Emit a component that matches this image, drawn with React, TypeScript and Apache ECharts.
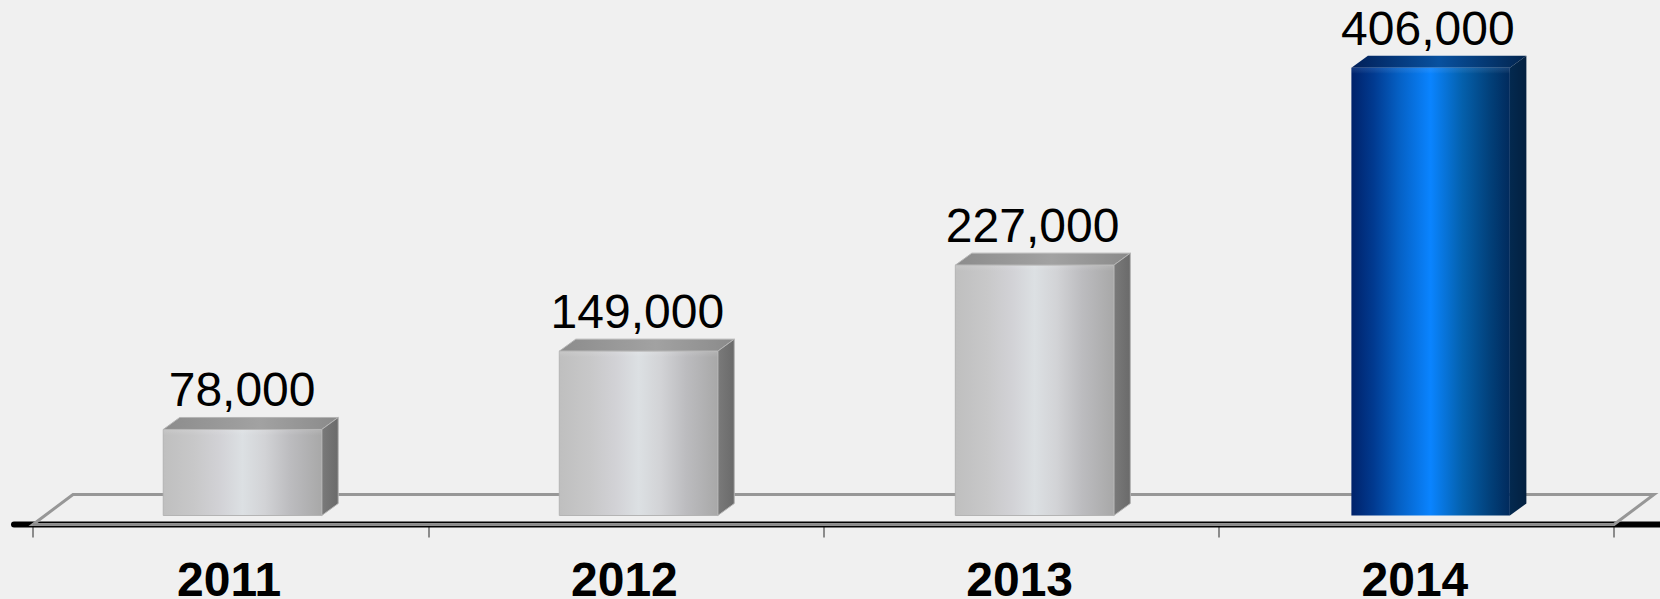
import React, { useEffect, useRef } from "react";
import * as echarts from "echarts";

const categories = ["2011", "2012", "2013", "2014"];
const values = [78000, 149000, 227000, 406000];
const highlightedYear = "2014";
const valueMax = 450000;

const FONT = '"Liberation Sans", Arial, sans-serif';
const DEPTH_X = 16.5;
const DEPTH_Y = 12;

const stops = (colors: [number, string][]) => colors.map(([offset, color]) => ({ offset, color }));
const horizontal = (colors: [number, string][]) =>
  new echarts.graphic.LinearGradient(0, 0, 1, 0, stops(colors));

const greyFace = {
  front: horizontal([
    [0, "#bfbfbf"],
    [0.2, "#c8c8c9"],
    [0.36, "#d2d2d6"],
    [0.5, "#dce0e3"],
    [0.64, "#d2d3d6"],
    [0.8, "#bcbcbf"],
    [1, "#a8a8a8"],
  ]),
  top: horizontal([
    [0, "#8c8c8c"],
    [0.55, "#a2a2a2"],
    [1, "#8a8a8a"],
  ]),
  side: horizontal([
    [0, "#7a7a7a"],
    [1, "#6a6a6a"],
  ]),
  edge: "#b4b4b4",
  bevel: "rgba(255,255,255,0.12)",
};

const blueFace = {
  front: horizontal([
    [0, "#00226a"],
    [0.14, "#013a90"],
    [0.3, "#0560c4"],
    [0.5, "#0a84ff"],
    [0.7, "#0460ac"],
    [0.88, "#023f78"],
    [1, "#012a5c"],
  ]),
  top: horizontal([
    [0, "#011f58"],
    [0.5, "#08519f"],
    [1, "#02244e"],
  ]),
  side: horizontal([
    [0, "#03294f"],
    [1, "#032040"],
  ]),
  edge: "none",
  bevel: "rgba(120,180,255,0.16)",
};

// A box with a gradient front, a slanted top and a shaded right side.
const renderBar = (_params: any, api: any) => {
  const index = api.value(0);
  const value = api.value(1);
  const [cx, top] = api.coord([index, value]);
  const [, base] = api.coord([index, 0]);
  const band = api.size([1, 0])[0];
  const width = band * 0.401;
  const left = cx + band * 0.03 + index * 0.8 - width / 2;
  const right = left + width;
  const face = categories[index] === highlightedYear ? blueFace : greyFace;
  const edge = { stroke: face.edge, lineWidth: 1 };
  return {
    type: "group",
    children: [
      {
        type: "polygon",
        shape: {
          points: [
            [left, top],
            [left + DEPTH_X, top - DEPTH_Y],
            [right + DEPTH_X, top - DEPTH_Y],
            [right, top],
          ],
        },
        style: { fill: face.top, ...edge },
      },
      {
        type: "polygon",
        shape: {
          points: [
            [right, top],
            [right + DEPTH_X, top - DEPTH_Y],
            [right + DEPTH_X, base - DEPTH_Y],
            [right, base],
          ],
        },
        style: { fill: face.side, ...edge },
      },
      {
        type: "rect",
        shape: { x: left, y: top, width, height: base - top },
        style: { fill: face.front, ...edge },
      },
      {
        type: "rect",
        shape: { x: left, y: top, width, height: 6 },
        style: {
          fill: new echarts.graphic.LinearGradient(0, 0, 0, 1, [
            { offset: 0, color: face.bevel },
            { offset: 1, color: "rgba(255,255,255,0)" },
          ]),
        },
      },
      {
        type: "text",
        x: cx + band * 0.029,
        y: top - 39.5,
        style: {
          text: value.toLocaleString("en-US"),
          fontFamily: FONT,
          fontSize: 48,
          fill: "#000000",
          align: "center",
          verticalAlign: "middle",
        },
      },
    ],
  };
};

// The floor frame with the heavy baseline running past both ends of the plot.
const renderFloor = (params: any) => {
  const { x, y, width, height } = params.coordSys;
  const bottom = y + height;
  const frontY = bottom + 9;
  const backY = bottom - 21;
  const slant = 40;
  return {
    type: "group",
    children: [
      {
        type: "line",
        shape: { x1: x - 19, y1: frontY, x2: x + width + 48, y2: frontY },
        style: { stroke: "#000000", lineWidth: 6, lineCap: "round" },
      },
      {
        type: "polygon",
        shape: {
          points: [
            [x, frontY],
            [x + slant, backY],
            [x + width + slant, backY],
            [x + width, frontY],
          ],
        },
        style: { fill: "none", stroke: "#979797", lineWidth: 3 },
      },
      {
        type: "line",
        shape: { x1: x, y1: frontY, x2: x + width, y2: frontY },
        style: { stroke: "#8a8a8a", lineWidth: 2 },
      },
    ],
  };
};

export default function App() {
  const ref = useRef<HTMLDivElement>(null);

  useEffect(() => {
    const chart = echarts.init(ref.current!, null, { renderer: "svg" });
    chart.setOption({
      animation: false,
      backgroundColor: "#f0f0f0",
      grid: { left: 33, right: 46, top: 19.2, bottom: 83.5, outerBoundsMode: "none" },
      xAxis: {
        type: "category",
        data: categories,
        offset: 9,
        axisLine: { show: false, onZero: false },
        axisTick: { show: true, length: 13, alignWithLabel: false, lineStyle: { color: "#8c8c8c", width: 2 } },
        axisLabel: {
          interval: 0,
          margin: 35,
          padding: [0, 3, 0, 0],
          fontFamily: FONT,
          fontSize: 48,
          lineHeight: 40,
          fontWeight: "bold",
          color: "#000000",
        },
      },
      yAxis: { type: "value", min: 0, max: valueMax, show: false },
      series: [
        {
          type: "custom",
          z: 1,
          clip: false,
          silent: true,
          data: [[0, 0]],
          encode: { x: 0, y: 1 },
          renderItem: renderFloor,
        },
        {
          type: "custom",
          z: 2,
          clip: false,
          data: categories.map((category, i) => [category, values[i]]),
          encode: { x: 0, y: 1 },
          renderItem: renderBar,
        },
      ],
    });
    return () => chart.dispose();
  }, []);

  return (
    <div
      ref={ref}
      style={{ position: "absolute", left: 0, top: 0, width: 1660, height: 599, overflow: "hidden" }}
    />
  );
}
